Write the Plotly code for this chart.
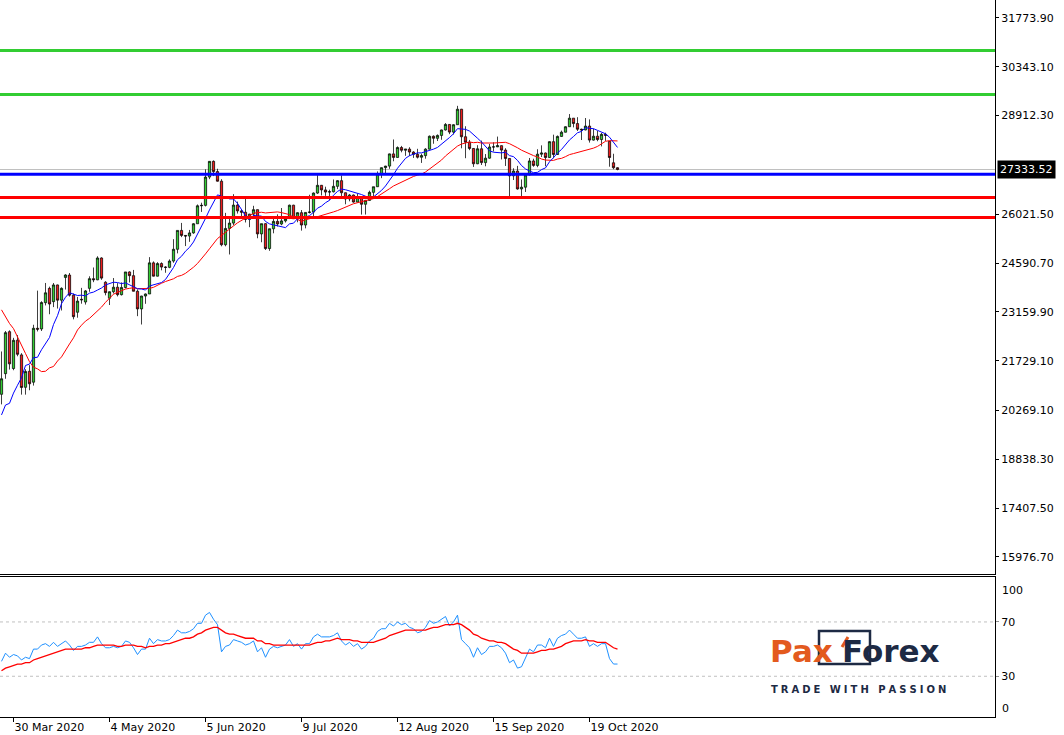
import plotly.graph_objects as go

# ---------------- data (US30 daily, 25 Mar - 28 Oct 2020) ----------------
trading_days = {
    3: [25, 26, 27, 30, 31],
    4: [1, 2, 3, 6, 7, 8, 9, 13, 14, 15, 16, 17, 20, 21, 22, 23, 24, 27, 28, 29, 30],
    5: [1, 4, 5, 6, 7, 8, 11, 12, 13, 14, 15, 18, 19, 20, 21, 22, 25, 26, 27, 28, 29],
    6: [1, 2, 3, 4, 5, 8, 9, 10, 11, 12, 15, 16, 17, 18, 19, 22, 23, 24, 25, 26, 29, 30],
    7: [1, 2, 3, 6, 7, 8, 9, 10, 13, 14, 15, 16, 17, 20, 21, 22, 23, 24, 27, 28, 29, 30, 31],
    8: [3, 4, 5, 6, 7, 10, 11, 12, 13, 14, 17, 18, 19, 20, 21, 24, 25, 26, 27, 28, 31],
    9: [1, 2, 3, 4, 7, 8, 9, 10, 11, 14, 15, 16, 17, 18, 21, 22, 23, 24, 25, 28, 29, 30],
    10: [1, 2, 5, 6, 7, 8, 9, 12, 13, 14, 15, 16, 19, 20, 21, 22, 23, 26, 27, 28],
}
dates = [f"2020-{m:02d}-{d:02d}" for m, days in trading_days.items() for d in days]

opens = [
    20745, 21350, 22580, 21500, 22330,
    21900, 20950, 21420, 21100, 22680, 22660, 23430, 23850, 23460, 23950, 23504, 24170, 24240, 23650, 23150, 23530, 23450, 23850, 24134, 24100, 24740,
    24030, 23560, 23750, 23883, 23665, 23876, 24331, 24222, 23765, 23248, 23625, 23685, 24597, 24207, 24576, 24474, 24465, 24650, 24995, 25548, 25401,
    25383, 25475, 25743, 26270, 26282, 27111, 27572, 27272, 26990, 25128, 25606, 25763, 26290, 26120, 26080, 25871, 26025, 26156, 25446, 25746, 25016, 25596,
    25813, 25735, 25827, 25900, 26287, 25890, 26067, 25706, 26075, 26086, 26643, 26870, 26735, 26672, 26681, 26840, 27006, 26652, 26470, 26585, 26379, 26540, 26314,
    26428, 26664, 26828, 27202, 27387, 27433, 27791, 27687, 27977, 27897, 27931, 27845, 27778, 27693, 27740, 27930, 28308, 28248, 28332, 28492, 28654,
    28430, 28646, 29100, 28293, 28133, 27950, 27501, 27940, 27535, 27666, 27993, 27996, 28032, 27902, 27657, 27148, 27288, 26763, 26815, 27174, 27584, 27453,
    27782, 27817, 27683, 28149, 27773, 28303, 28426, 28587, 28838, 28680, 28514, 28494, 28606, 28195, 28309, 28211, 28364, 28160, 27530, 27385,
]
highs = [
    22000, 22600, 22620, 22400, 22480,
    21950, 21478, 21600, 22783, 23783, 23472, 24008, 23900, 24007, 23960, 23880, 24264, 24300, 23700, 23598, 23864, 23800, 24203, 24462, 24790, 24760,
    24060, 23760, 24152, 24003, 24024, 24331, 24350, 24390, 23818, 23631, 23700, 24765, 24640, 24617, 24612, 24497, 24700, 25291, 25548, 25768, 25413,
    25562, 25760, 26308, 26360, 27338, 27580, 27600, 27355, 27050, 26062, 25905, 26610, 26392, 26156, 26490, 26034, 26269, 26160, 25747, 25760, 25600, 25905,
    26019, 26204, 25950, 26304, 26300, 26080, 26145, 26082, 26594, 26661, 27170, 26880, 26829, 26742, 27041, 27022, 27161, 26660, 26613, 26599, 26625, 26545, 26442,
    26712, 26828, 27277, 27396, 27442, 27801, 28213, 28010, 28025, 27931, 27986, 27869, 27940, 27797, 27958, 28330, 28334, 28361, 28503, 28694, 28660,
    28659, 29199, 29110, 28601, 28200, 27960, 28046, 28180, 27786, 28085, 28132, 28298, 28040, 27957, 27660, 27369, 27440, 27042, 27218, 27671, 27649, 27927,
    28041, 27830, 28162, 28354, 28330, 28473, 28600, 28958, 28840, 28866, 28530, 28842, 28801, 28532, 28466, 28405, 28412, 28166, 27795, 27400,
]
lows = [
    20450, 21200, 21470, 21450, 21860,
    20735, 20735, 20863, 21000, 22587, 22600, 23350, 23091, 23300, 23258, 23201, 23815, 23609, 22942, 22990, 23400, 23374, 23750, 24031, 24090, 24100,
    23645, 23361, 23700, 23614, 23640, 23850, 24022, 23759, 23035, 22790, 23397, 23685, 24199, 24200, 24378, 24307, 24440, 24600, 24875, 25351, 25089,
    25213, 25450, 25740, 26090, 26250, 27050, 27140, 26978, 25082, 25082, 24843, 25700, 26042, 25884, 25781, 25642, 25950, 25318, 25201, 24974, 24950, 25463,
    25664, 25700, 25780, 25880, 25883, 25787, 25542, 25608, 26046, 25885, 26620, 26573, 26560, 26432, 26660, 26758, 26549, 26313, 26401, 26360, 26370, 26012, 26013,
    26420, 26519, 26820, 27080, 27174, 27353, 27574, 27680, 27837, 27734, 27725, 27673, 27655, 27526, 27650, 27920, 28088, 28168, 28204, 28475, 28369,
    28357, 28640, 27954, 27664, 27900, 27409, 27490, 27465, 27428, 27650, 27861, 27990, 27628, 27437, 26537, 27025, 26742, 26538, 26675, 27160, 27413, 27400,
    27699, 27428, 27670, 27663, 27760, 28290, 28420, 28580, 28567, 28462, 28197, 28480, 28122, 28180, 28161, 28010, 28171, 27415, 27342, 27310,
]
closes = [
    21200, 22552, 21637, 22327, 21917,
    20944, 21413, 21053, 22680, 22654, 23434, 23719, 23391, 23950, 23504, 23850, 24242, 23650, 23019, 23476, 23515, 23775, 24134, 24102, 24740, 24150,
    23724, 23750, 23883, 23665, 23876, 24331, 24222, 23765, 23248, 23625, 23685, 24597, 24207, 24576, 24474, 24465, 24650, 24995, 25548, 25401, 25383,
    25475, 25743, 26270, 26282, 27111, 27572, 27272, 26990, 25128, 25606, 25763, 26290, 26120, 26080, 25871, 26025, 26156, 25446, 25746, 25016, 25596, 25813,
    25735, 25827, 25900, 26287, 25890, 26067, 25706, 26075, 26086, 26643, 26870, 26735, 26672, 26681, 26840, 27006, 26652, 26470, 26585, 26379, 26540, 26314, 26428,
    26664, 26828, 27202, 27387, 27433, 27791, 27687, 27977, 27897, 27931, 27845, 27778, 27693, 27740, 27930, 28308, 28248, 28332, 28492, 28654, 28430,
    28646, 29100, 28293, 28133, 27950, 27501, 27940, 27535, 27666, 27993, 27996, 28032, 27902, 27657, 27148, 27288, 26763, 26815, 27174, 27584, 27453, 27782,
    27817, 27683, 28149, 27773, 28303, 28426, 28587, 28838, 28680, 28514, 28494, 28606, 28195, 28309, 28211, 28364, 28336, 27685, 27385, 27334,
]

# fast moving average (blue) on the price panel
ma_fast = [
    20140, 20430, 20480, 20780, 21010, 21230, 21590, 21630, 21820, 21830,
    22050, 22230, 22410, 22790, 23050, 23400, 23590, 23720, 23670, 23640,
    23650, 23630, 23710, 23740, 23800, 23860, 23950, 23990, 24030, 24020,
    23990, 24010, 23950, 23900, 23840, 23830, 23800, 23920, 23960, 23990,
    24020, 24110, 24280, 24460, 24690, 24790, 24940, 25050, 25210, 25430,
    25640, 25900, 26150, 26390, 26590, 26550, 26530, 26470, 26470, 26340,
    26160, 25980, 25860, 25990, 25970, 25970, 25810, 25740, 25710, 25690,
    25670, 25630, 25740, 25760, 25890, 25900, 25940, 25980, 26080, 26200,
    26260, 26360, 26430, 26580, 26690, 26760, 26740, 26710, 26660, 26640,
    26600, 26550, 26500, 26530, 26620, 26720, 26850, 27010, 27180, 27370,
    27530, 27660, 27740, 27790, 27820, 27820, 27850, 27890, 27930, 27980,
    28070, 28170, 28270, 28380, 28530, 28520, 28510, 28460, 28340, 28250,
    28140, 28010, 27880, 27840, 27830, 27820, 27840, 27740, 27710, 27600,
    27450, 27350, 27290, 27240, 27250, 27330, 27380, 27560, 27680, 27820,
    27920, 28060, 28200, 28300, 28410, 28450, 28560, 28540, 28530, 28480,
    28420, 28380, 28280, 28140, 27980,
]
# slow moving average (red) on the price panel
ma_slow = [
    23220, 23020, 22820, 22670, 22440, 22210, 21940, 21700, 21540, 21490,
    21410, 21420, 21520, 21560, 21720, 21840, 22050, 22220, 22400, 22630,
    22770, 22890, 22970, 23080, 23200, 23300, 23440, 23550, 23680, 23730,
    23790, 23830, 23850, 23870, 23840, 23840, 23840, 23850, 23880, 23950,
    24000, 24050, 24090, 24130, 24200, 24230, 24290, 24370, 24470, 24580,
    24710, 24860, 25010, 25160, 25310, 25400, 25500, 25600, 25680, 25770,
    25840, 25910, 25980, 26050, 26070, 26080, 26060, 26070, 26090, 26090,
    26070, 26050, 26010, 25930, 25870, 25810, 25860, 25880, 25920, 25950,
    25980, 26010, 26050, 26090, 26130, 26180, 26220, 26290, 26330, 26360,
    26390, 26420, 26460, 26480, 26540, 26610, 26690, 26770, 26850, 26910,
    26960, 27020, 27070, 27130, 27170, 27200, 27260, 27350, 27430, 27520,
    27610, 27730, 27820, 27920, 28020, 28080, 28110, 28140, 28120, 28130,
    28110, 28100, 28110, 28110, 28120, 28130, 28130, 28090, 28040, 27970,
    27900, 27840, 27790, 27740, 27700, 27640, 27610, 27610, 27600, 27640,
    27660, 27710, 27770, 27800, 27830, 27850, 27880, 27910, 27960, 28010,
    28080, 28160, 28180, 28170, 28170,
]
# oscillator (blue) and its signal line (red) in the lower panel
oscillator = [
    41, 47, 44, 46, 45, 42, 44, 43, 50, 50, 53, 54, 52, 55, 52, 54, 56, 53, 49, 52,
    52, 53, 55, 55, 59, 54, 51, 51, 52, 51, 52, 56, 55, 51, 46, 50, 50, 58, 54, 57,
    56, 56, 57, 60, 64, 62, 62, 63, 65, 69, 69, 75, 77, 72, 68, 48, 52, 53, 57, 56,
    55, 53, 54, 56, 48, 51, 44, 50, 52, 51, 52, 53, 57, 52, 54, 50, 54, 54, 59, 61,
    59, 59, 59, 60, 62, 56, 53, 55, 52, 54, 50, 52, 56, 58, 63, 65, 65, 69, 67, 70,
    68, 69, 66, 65, 62, 63, 66, 71, 69, 70, 72, 74, 67, 70, 75, 57, 54, 51, 44, 51,
    46, 48, 52, 52, 53, 51, 47, 40, 42, 36, 37, 44, 50, 48, 53, 53, 51, 58, 52, 58,
    60, 61, 64, 61, 58, 58, 59, 52, 54, 52, 54, 54, 43, 39, 39,
]
signal = [
    34, 36, 37, 38, 39, 39, 40, 40, 42, 43, 44, 45, 46, 47, 48, 49, 50, 50, 50, 50,
    50, 51, 51, 52, 53, 53, 53, 53, 53, 52, 52, 53, 53, 53, 52, 52, 51, 52, 52, 53,
    53, 54, 54, 55, 56, 57, 58, 58, 59, 61, 62, 64, 65, 66, 66, 64, 62, 61, 61, 60,
    59, 58, 58, 58, 56, 56, 54, 54, 53, 53, 53, 53, 53, 53, 53, 53, 53, 53, 54, 55,
    55, 56, 56, 57, 58, 57, 57, 57, 56, 56, 55, 55, 55, 55, 56, 57, 58, 60, 61, 62,
    63, 64, 64, 64, 64, 64, 64, 65, 66, 66, 67, 68, 68, 68, 69, 68, 66, 64, 61, 60,
    58, 57, 56, 56, 55, 55, 54, 52, 50, 49, 47, 47, 47, 47, 48, 49, 49, 50, 50, 51,
    52, 54, 55, 56, 56, 56, 57, 56, 56, 55, 55, 55, 53, 51, 50,
]

resistance_levels = [30821, 29532]
pivot_levels = [27193]
support_levels = [26516, 25930]
current_price = 27333.52

price_ticks = [31773.90, 30343.10, 28912.30, 26021.50, 24590.70, 23159.90,
               21729.10, 20269.10, 18838.30, 17407.50, 15976.70]
osc_ticks = [70, 30]
osc_bounds = [100, 0]
osc_levels = [70, 30]
date_ticks = ["2020-03-30", "2020-05-04", "2020-06-05", "2020-07-09",
              "2020-08-12", "2020-09-15", "2020-10-19"]
date_tick_labels = ["30 Mar 2020", "4 May 2020", "5 Jun 2020", "9 Jul 2020",
                    "12 Aug 2020", "15 Sep 2020", "19 Oct 2020"]

# ---------------- figure ----------------
FONT = "DejaVu Sans"
BULL = "#32CD32"
BEAR = "#EE1C1C"
NAVY = "#1D2A44"
ORANGE = "#E35A1E"
W, H = 1064, 735
PLOT_W, PLOT_BOTTOM = 995, 717   # pixel geometry of the MT4-like frame


def px(x):
    return x / PLOT_W


def py(y):
    return (PLOT_BOTTOM - y) / PLOT_BOTTOM


fig = go.Figure()
fig.add_trace(go.Candlestick(
    x=dates, open=opens, high=highs, low=lows, close=closes,
    increasing=dict(fillcolor=BULL, line=dict(color="black", width=0.75)),
    decreasing=dict(fillcolor=BEAR, line=dict(color="black", width=0.75)),
    whiskerwidth=0, showlegend=False, hoverinfo="skip", xaxis="x", yaxis="y"))
fig.add_trace(go.Scatter(x=dates, y=ma_slow, mode="lines", line=dict(color="#FF0000", width=1),
                         showlegend=False, hoverinfo="skip", xaxis="x", yaxis="y"))
fig.add_trace(go.Scatter(x=dates, y=ma_fast, mode="lines", line=dict(color="#0000FF", width=1),
                         showlegend=False, hoverinfo="skip", xaxis="x", yaxis="y"))
fig.add_trace(go.Scatter(x=dates, y=oscillator, mode="lines", line=dict(color="#1E90FF", width=1),
                         showlegend=False, hoverinfo="skip", xaxis="x2", yaxis="y2"))
fig.add_trace(go.Scatter(x=dates, y=signal, mode="lines", line=dict(color="#FF0000", width=1.3),
                         showlegend=False, hoverinfo="skip", xaxis="x2", yaxis="y2"))

shapes = [dict(type="line", xref="paper", x0=0, x1=1, yref="y", y0=current_price, y1=current_price,
               line=dict(color="#C0C0C0", width=1), layer="below")]
for lv in resistance_levels:
    shapes.append(dict(type="line", xref="paper", x0=0, x1=1, yref="y", y0=lv, y1=lv,
                       line=dict(color="#32CD32", width=3)))
for lv in pivot_levels:
    shapes.append(dict(type="line", xref="paper", x0=0, x1=1, yref="y", y0=lv, y1=lv,
                       line=dict(color="#0000FF", width=3)))
for lv in support_levels:
    shapes.append(dict(type="line", xref="paper", x0=0, x1=1, yref="y", y0=lv, y1=lv,
                       line=dict(color="#FF0000", width=3)))
for lv in osc_levels:
    shapes.append(dict(type="line", xref="paper", x0=0, x1=1, yref="y2", y0=lv, y1=lv,
                       line=dict(color="#C0C0C0", width=1, dash="3px,3px"), layer="below"))
# logo frame around "xF" and the orange accent stroke
shapes.append(dict(type="rect", xref="paper", yref="paper", x0=px(819), x1=px(870), y0=py(664), y1=py(631),
                   line=dict(color=NAVY, width=2.5)))
shapes.append(dict(type="line", xref="paper", yref="paper", x0=px(842), x1=px(848), y0=py(647), y1=py(637),
                   line=dict(color=ORANGE, width=3)))

axis_font = dict(family=FONT, size=11, color="black")
annotations = [
    dict(xref="paper", x=1, xanchor="left", xshift=1.5, yref="y", y=current_price, yanchor="middle",
         text=f"{current_price:.2f}", showarrow=False, bgcolor="black", borderpad=2,
         font=dict(family=FONT, size=11, color="white")),
    dict(xref="paper", yref="paper", x=px(768), y=py(651), xanchor="left", yanchor="middle",
         text="Pax", showarrow=False, font=dict(family=FONT, size=31, color=ORANGE, weight="bold")),
    dict(xref="paper", yref="paper", x=px(840), y=py(651), xanchor="left", yanchor="middle",
         text="Forex", showarrow=False, font=dict(family=FONT, size=31, color=NAVY, weight="bold")),
    dict(xref="paper", yref="paper", x=px(769), y=py(689), xanchor="left", yanchor="middle",
         text="\u2009\u200a".join("TRADE WITH PASSION"), showarrow=False,
         font=dict(family=FONT, size=10, color=NAVY, weight="bold")),
]
for v in osc_bounds:
    annotations.append(dict(xref="paper", x=1, xanchor="left", xshift=5, yref="y2", y=v,
                            yanchor="top" if v == 100 else "bottom", yshift=-1 if v == 100 else 0,
                            text=str(v), showarrow=False, font=axis_font))

fig.update_layout(
    width=W, height=H,
    margin=dict(l=0, r=W - PLOT_W, t=0, b=H - PLOT_BOTTOM),
    paper_bgcolor="white", plot_bgcolor="white",
    showlegend=False, hovermode=False, dragmode=False, boxgap=0.2,
    shapes=shapes, annotations=annotations,
    xaxis=dict(type="category", domain=[0, 1], anchor="y", range=[-0.375, 248.375],
               showticklabels=False, ticks="", showline=True, linecolor="black", linewidth=1,
               showgrid=False, zeroline=False, rangeslider=dict(visible=False)),
    xaxis2=dict(type="category", domain=[0, 1], anchor="y2", matches="x",
                showline=True, mirror=True, linecolor="black", linewidth=1, ticks="outside", ticklen=4,
                tickcolor="black", tickvals=date_ticks, ticktext=date_tick_labels,
                ticklabelposition="outside right", tickfont=axis_font, showgrid=False, zeroline=False),
    yaxis=dict(domain=[py(574), 1], anchor="x", side="right", range=[15478, 32301],
               tickvals=price_ticks, ticktext=[f"{v:.2f}" for v in price_ticks],
               ticks="outside", ticklen=3, tickcolor="black", showline=True, linecolor="black",
               tickfont=axis_font, showgrid=False, zeroline=False),
    yaxis2=dict(domain=[0, py(577)], anchor="x2", side="right", range=[0, 103.1],
                tickvals=osc_ticks, ticktext=[str(v) for v in osc_ticks],
                ticks="outside", ticklen=3, tickcolor="#909090", showline=True, linecolor="black",
                tickfont=axis_font, showgrid=False, zeroline=False),
)

fig.write_html("out.html", config={"displayModeBar": False},
               post_script="document.body.style.margin='0';document.body.style.overflow='hidden';")
